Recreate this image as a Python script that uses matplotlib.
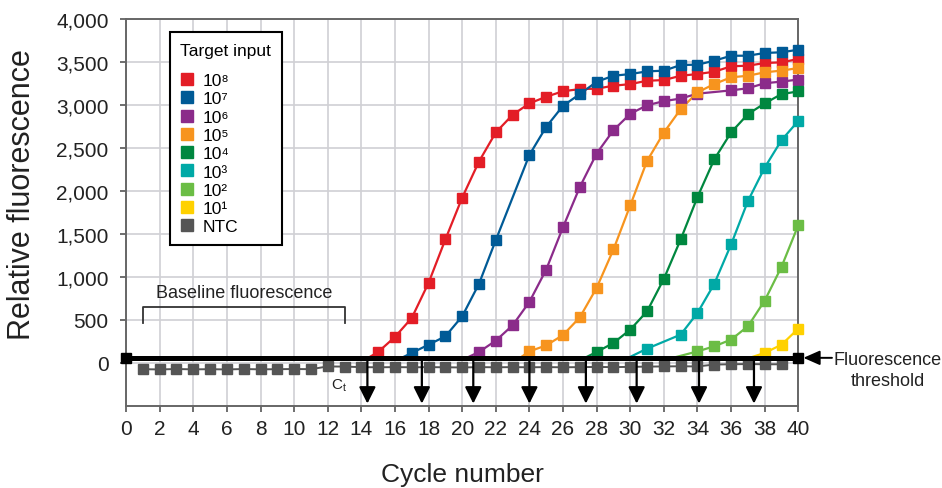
import numpy as np
import matplotlib.pyplot as plt
from matplotlib.ticker import FuncFormatter

plt.rcParams['font.family'] = ['Liberation Sans', 'DejaVu Sans']
plt.rcParams['mathtext.default'] = 'regular'

# cycle numbers and threshold
cycles = np.arange(1, 41)
threshold = 60

labels = ['10⁸', '10⁷', '10⁶', '10⁵', '10⁴', '10³', '10²', '10¹']
colors = ['#e31d26', '#005a96', '#8b2b8a', '#f7941e', '#00873f', '#00a9a6', '#6bbd45', '#ffd100']
first_cycle = [15, 17, 21, 24, 28, 31, 34, 38]
# where each curve leaves the threshold line
start_x = [14.41, 16.4, 20.27, 23.44, 27.3, 29.88, 32.54, 37.1]
# Ct arrows
ct_x = [14.36, 17.6, 20.66, 24.0, 27.36, 30.38, 34.09, 37.36]

red = [128, 303, 524, 932, 1437, 1923, 2343, 2681, 2886, 3019, 3096, 3160, 3185,
       3190, 3224, 3243, 3282, 3290, 3340, 3360, 3387, 3450, 3457, 3488, 3496, 3535]
blue = [117, 213, 310, 543, 921, 1429, None, 2420, 2746, 2991, 3127, 3270, 3340,
        3360, 3391, 3399, 3465, 3469, 3515, 3573, 3573, 3605, 3613, 3643]
purple = [128, 260, 438, 711, 1087, 1580, 2047, 2436, 2707, 2898, 2997, 3045, 3075,
          3132, None, 3170, 3195, 3253, 3272, 3296]
orange = [135, 205, 325, 531, 874, 1320, 1833, 2350, 2680, 2952, 3147, 3244, 3322,
          3340, 3380, 3400, 3430]
green = [128, 233, 388, 601, 979, 1437, 1930, 2369, 2681, 2894, 3019, 3127, 3158]
teal = [167, None, 330, 583, 921, 1379, 1883, 2273, 2591, 2816]
lightgreen = [135, 194, 272, 427, 726, 1119, 1604]
yellow = [117, 213, 400]
series = [red, blue, purple, orange, green, teal, lightgreen, yellow]

ntc = [-72, -75, -70, -74, -72, -75, -70, -74, -72, -70, -72, -40, -42,
       -48, -50, -48, -50, -48, -50, -52, -48, -50, -48, -50, -48, -50, -48,
       -46, -48, -45, -42, -40, -38, -40, -18, -15, -12, -15, -15]

fig = plt.figure(figsize=(9.42, 4.89), dpi=100)
ax = fig.add_axes([0.1338, 0.1677, 0.7137, 0.7914])

ax.plot(cycles[:len(ntc)], ntc, color='#555555', lw=1.4, marker='s', ms=7,
        zorder=4, label='_nolegend_')

for lab, col, c0, x0, vals in zip(labels, colors, first_cycle, start_x, series):
    xs = [c for c, v in zip(range(c0, 41), vals) if v is not None]
    ys = [v for v in vals if v is not None]
    ax.plot([x0] + xs, [threshold] + ys, color=col, lw=1.6, zorder=5)
    ax.plot(xs, ys, 's', color=col, ms=7.5, zorder=6, label=lab, clip_on=False)
ax.plot([], [], 's', color='#555555', ms=7.5, label='NTC')

# threshold line
ax.plot([0, 40], [threshold, threshold], color='black', lw=3.6, marker='s', ms=7,
        zorder=7, clip_on=False)

for x in ct_x:
    ax.annotate('', xy=(x, -472), xytext=(x, threshold),
                arrowprops=dict(arrowstyle='-|>,head_length=0.5,head_width=0.25',
                                color='black', lw=1.6, mutation_scale=20,
                                shrinkA=0, shrinkB=0), zorder=8)
ax.text(12.65, -250, 'C$_t$', fontsize=11, ha='center', va='center', color='#222222')

# baseline bracket
ax.plot([1, 1, 13, 13], [460, 650, 650, 460], color='#333333', lw=1.3, zorder=3)
ax.text(7, 816, 'Baseline fluorescence', fontsize=13, ha='center', va='center',
        color='#222222')

# threshold callout
ax.annotate('', xy=(40.3, threshold), xytext=(42.0, threshold),
            arrowprops=dict(arrowstyle='-|>,head_length=0.5,head_width=0.22',
                            color='black', lw=1.4, mutation_scale=20,
                            shrinkA=0, shrinkB=0), annotation_clip=False)
ax.text(45.33, -84, 'Fluorescence\nthreshold', fontsize=13, ha='center', va='center',
        linespacing=1.35, color='#222222', clip_on=False)

ax.set_xlim(0, 40)
ax.set_ylim(-500, 4000)
ax.set_xticks(range(0, 41, 2))
ax.set_yticks(range(0, 4001, 500))
ax.yaxis.set_major_formatter(FuncFormatter(lambda v, p: f'{int(v):,}'))
ax.grid(True, color='#d0d0d4', lw=1.2)
ax.set_axisbelow(True)
ax.tick_params(direction='out', length=4.5, width=1.2, color='#555555',
               labelsize=15, labelcolor='#222222')
ax.tick_params(axis='x', pad=5)
ax.tick_params(axis='y', pad=8)
for s in ax.spines.values():
    s.set_color('#666666')
    s.set_linewidth(1.4)

ax.set_ylabel('Relative fluorescence', fontsize=22, color='#222222')
ax.yaxis.set_label_coords(-0.132, 0.548)
ax.set_xlabel('Cycle number', fontsize=19, color='#222222')
ax.xaxis.set_label_coords(0.5, -0.145)

leg = ax.legend(title='Target input', loc='upper left',
                bbox_to_anchor=(44 / 672.3, 1 - 13.3 / 387), borderaxespad=0,
                frameon=True, fancybox=False, edgecolor='black', framealpha=1,
                fontsize=12.5, title_fontsize=12.5, handlelength=0.8,
                handletextpad=0.5, labelspacing=0.18, borderpad=0.6,
                alignment='left', markerscale=1.1)
leg._legend_box.sep = 11  # extra gap under the title
leg.get_frame().set_linewidth(1.5)
leg.set_zorder(10)

fig.savefig('out.png', dpi=100)
